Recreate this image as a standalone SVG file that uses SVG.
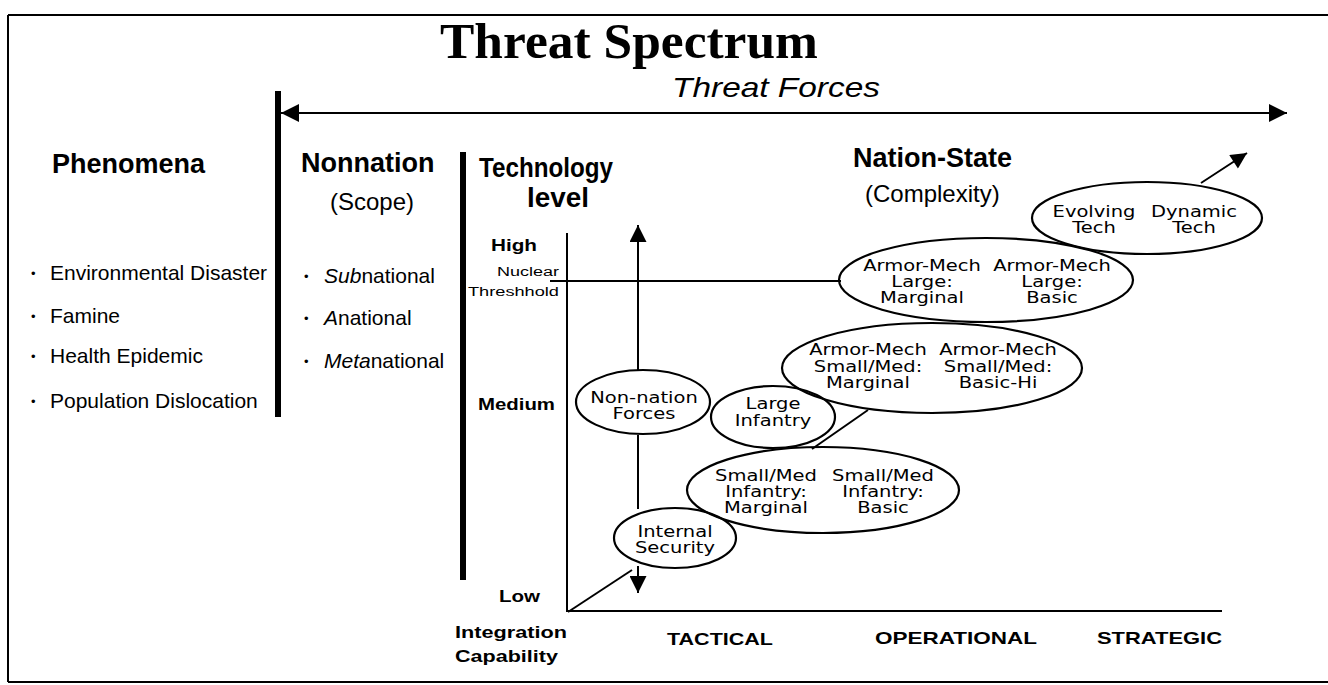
<svg xmlns="http://www.w3.org/2000/svg" width="1328" height="685" viewBox="0 0 1328 685">
<style>
  .sans { font-family: "Liberation Sans", Arial, sans-serif; fill: #000; }
  .hd { font-family: "Liberation Sans", Arial, sans-serif; font-weight: bold; font-size: 27px; fill: #000; }
  .paren { font-family: "Liberation Sans", Arial, sans-serif; font-size: 24px; fill: #000; }
  .bul { font-family: "Liberation Sans", Arial, sans-serif; font-size: 21px; fill: #000; }
  .dot { font-family: "Liberation Sans", Arial, sans-serif; font-size: 13px; fill: #000; }
  .ax { font-family: "Liberation Sans", Arial, sans-serif; font-weight: bold; font-size: 17px; fill: #000; }
  .sm { font-family: "Liberation Sans", Arial, sans-serif; font-size: 12px; fill: #000; text-anchor: end; }
  .nt { font-family: "DejaVu Sans", "Liberation Sans", sans-serif; font-size: 16px; fill: #000; text-anchor: middle; }
  .ell { fill: none; stroke: #000; stroke-width: 2.2; }
  .ln { stroke: #000; stroke-width: 2; fill: none; }
  .bar { stroke: #000; stroke-width: 6; }
</style>
<defs>
  <marker id="ahBig" viewBox="0 0 10 10" refX="10" refY="5" markerUnits="userSpaceOnUse" markerWidth="33" markerHeight="18" orient="auto-start-reverse">
    <path d="M0,0 L10,5 L0,10 z" fill="#000"/>
  </marker>
  <marker id="ahMid" viewBox="0 0 10 10" refX="10" refY="5" markerUnits="userSpaceOnUse" markerWidth="26" markerHeight="17" orient="auto">
    <path d="M0,0 L10,5 L0,10 z" fill="#000"/>
  </marker>
  <marker id="ahSmall" viewBox="0 0 10 10" refX="10" refY="5" markerUnits="userSpaceOnUse" markerWidth="22" markerHeight="16" orient="auto">
    <path d="M0,0 L10,5 L0,10 z" fill="#000"/>
  </marker>
</defs>
<rect width="1328" height="685" fill="#fff"/>

<g id="frame">
  <line class="ln" x1="8" y1="15" x2="1328" y2="15"/>
  <line class="ln" x1="8" y1="15" x2="8" y2="682"/>
  <line class="ln" x1="8" y1="682" x2="1328" y2="682"/>
</g>

<g id="title">
  <text x="440" y="58" font-family="Liberation Serif, Times New Roman, serif" font-weight="bold" font-size="50" textLength="378" lengthAdjust="spacingAndGlyphs">Threat Spectrum</text>
  <text x="672" y="97" class="sans" font-style="italic" font-size="28" textLength="208" lengthAdjust="spacingAndGlyphs">Threat Forces</text>
</g>

<g id="dividers">
  <line class="bar" x1="278" y1="91" x2="278" y2="417"/>
  <line class="bar" x1="463" y1="152" x2="463" y2="580"/>
</g>

<g id="phenomena">
  <text class="hd" x="52" y="173">Phenomena</text>
  <text class="dot" x="31" y="278">•</text>
  <text class="bul" x="50" y="280">Environmental Disaster</text>
  <text class="dot" x="31" y="321">•</text>
  <text class="bul" x="50" y="323">Famine</text>
  <text class="dot" x="31" y="361">•</text>
  <text class="bul" x="50" y="363">Health Epidemic</text>
  <text class="dot" x="31" y="406">•</text>
  <text class="bul" x="50" y="408">Population Dislocation</text>
</g>

<g id="nonnation">
  <text class="hd" x="301" y="172">Nonnation</text>
  <text class="paren" x="330" y="210">(Scope)</text>
  <text class="dot" x="304" y="281">•</text>
  <text class="bul" x="324" y="283"><tspan font-style="italic">Sub</tspan>national</text>
  <text class="dot" x="304" y="323">•</text>
  <text class="bul" x="324" y="325"><tspan font-style="italic">A</tspan>national</text>
  <text class="dot" x="304" y="366">•</text>
  <text class="bul" x="324" y="368"><tspan font-style="italic">Meta</tspan>national</text>
</g>

<g id="tech-axis">
  <text class="hd" font-size="24" x="479" y="177" textLength="134" lengthAdjust="spacingAndGlyphs">Technology</text>
  <text class="hd" font-size="24" x="527" y="207" textLength="62" lengthAdjust="spacingAndGlyphs">level</text>
  <text class="ax" font-size="18" x="491" y="251" textLength="46" lengthAdjust="spacingAndGlyphs">High</text>
  <text class="sm" x="559" y="276" textLength="62" lengthAdjust="spacingAndGlyphs">Nuclear</text>
  <text class="sm" x="559" y="296" textLength="91" lengthAdjust="spacingAndGlyphs">Threshhold</text>
  <text class="ax" font-size="18" x="478" y="410" textLength="77" lengthAdjust="spacingAndGlyphs">Medium</text>
  <text class="ax" font-size="18" x="499" y="602" textLength="41" lengthAdjust="spacingAndGlyphs">Low</text>
  <text class="ax" x="455" y="638" textLength="112" lengthAdjust="spacingAndGlyphs">Integration</text>
  <text class="ax" x="455" y="662" textLength="103" lengthAdjust="spacingAndGlyphs">Capability</text>
  <text class="ax" x="667" y="645" textLength="106" lengthAdjust="spacingAndGlyphs">TACTICAL</text>
  <text class="ax" x="875" y="644" textLength="162" lengthAdjust="spacingAndGlyphs">OPERATIONAL</text>
  <text class="ax" x="1097" y="644" textLength="125" lengthAdjust="spacingAndGlyphs">STRATEGIC</text>
  <line class="ln" x1="567" y1="233" x2="567" y2="612"/>
  <line class="ln" stroke-width="3" x1="567" y1="611" x2="1222" y2="611"/>
</g>

<g id="nation-state">
  <text class="hd" x="853" y="167">Nation-State</text>
  <text class="paren" x="865" y="202">(Complexity)</text>
</g>

<g id="connectors">
  <line class="ln" x1="281" y1="113" x2="1287" y2="113" marker-start="url(#ahBig)" marker-end="url(#ahBig)"/>
  <line class="ln" x1="550" y1="281" x2="841" y2="281"/>
  <line class="ln" x1="638" y1="370" x2="638" y2="225" marker-end="url(#ahMid)"/>
  <line class="ln" x1="638" y1="435" x2="638" y2="509"/>
  <line class="ln" x1="638" y1="566" x2="638" y2="593" marker-end="url(#ahMid)"/>
  <line class="ln" x1="568" y1="612" x2="632" y2="570"/>
  <line class="ln" stroke-width="3" x1="812" y1="449" x2="868" y2="410"/>
  <line class="ln" x1="1201" y1="183" x2="1247" y2="153" marker-end="url(#ahSmall)"/>
</g>

<g id="node-evolving">
  <ellipse class="ell" cx="1147" cy="218" rx="115" ry="36"/>
  <g transform="translate(1094,0) scale(1.22,1)"><text class="nt" x="0" y="217">Evolving</text><text class="nt" x="0" y="233">Tech</text></g>
  <g transform="translate(1194,0) scale(1.22,1)"><text class="nt" x="0" y="217">Dynamic</text><text class="nt" x="0" y="233">Tech</text></g>
</g>

<g id="node-armor-large">
  <ellipse class="ell" cx="986" cy="280" rx="147" ry="42"/>
  <g transform="translate(922,0) scale(1.22,1)"><text class="nt" x="0" y="271">Armor-Mech</text><text class="nt" x="0" y="287">Large:</text><text class="nt" x="0" y="303">Marginal</text></g>
  <g transform="translate(1052,0) scale(1.22,1)"><text class="nt" x="0" y="271">Armor-Mech</text><text class="nt" x="0" y="287">Large:</text><text class="nt" x="0" y="303">Basic</text></g>
</g>

<g id="node-armor-small">
  <ellipse class="ell" cx="932" cy="368" rx="150" ry="45"/>
  <g transform="translate(868,0) scale(1.22,1)"><text class="nt" x="0" y="355">Armor-Mech</text><text class="nt" x="0" y="372">Small/Med:</text><text class="nt" x="0" y="388">Marginal</text></g>
  <g transform="translate(998,0) scale(1.22,1)"><text class="nt" x="0" y="355">Armor-Mech</text><text class="nt" x="0" y="372">Small/Med:</text><text class="nt" x="0" y="388">Basic-Hi</text></g>
</g>

<g id="node-nonnation-forces">
  <ellipse class="ell" cx="643" cy="402" rx="67" ry="32"/>
  <g transform="translate(644,0) scale(1.22,1)"><text class="nt" x="0" y="403">Non-nation</text><text class="nt" x="0" y="419">Forces</text></g>
</g>

<g id="node-large-infantry">
  <ellipse class="ell" cx="773" cy="417" rx="62" ry="31"/>
  <g transform="translate(773,0) scale(1.22,1)"><text class="nt" x="0" y="409">Large</text><text class="nt" x="0" y="426">Infantry</text></g>
</g>

<g id="node-small-infantry">
  <ellipse class="ell" cx="823" cy="490" rx="136" ry="43"/>
  <g transform="translate(766,0) scale(1.22,1)"><text class="nt" x="0" y="481">Small/Med</text><text class="nt" x="0" y="497">Infantry:</text><text class="nt" x="0" y="513">Marginal</text></g>
  <g transform="translate(883,0) scale(1.22,1)"><text class="nt" x="0" y="481">Small/Med</text><text class="nt" x="0" y="497">Infantry:</text><text class="nt" x="0" y="513">Basic</text></g>
</g>

<g id="node-internal-security">
  <ellipse class="ell" cx="675" cy="538" rx="61" ry="30"/>
  <g transform="translate(675,0) scale(1.22,1)"><text class="nt" x="0" y="537">Internal</text><text class="nt" x="0" y="553">Security</text></g>
</g>
</svg>
